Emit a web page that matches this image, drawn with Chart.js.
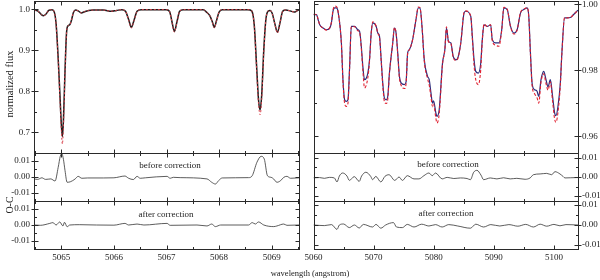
<!DOCTYPE html>
<html><head><meta charset="utf-8">
<script src="https://cdn.jsdelivr.net/npm/chart.js@4/dist/chart.umd.min.js"></script>
<style>
html,body{margin:0;padding:0;background:#fff;}
#wrap{position:relative;width:600px;height:280px;overflow:hidden;font-family:'Liberation Serif','DejaVu Serif',serif;color:#222;}
canvas{position:absolute;left:-20px;top:-20px;}
.t{position:absolute;white-space:nowrap;font-size:9px;line-height:1;transform:translate(-50%,-50%);}
.r{transform:translate(-50%,-50%) rotate(-90deg);}
</style></head><body><div id="wrap">
<canvas id="lt" width="640" height="320"></canvas>
<canvas id="lm" width="640" height="320"></canvas>
<canvas id="lb" width="640" height="320"></canvas>
<canvas id="rt" width="640" height="320"></canvas>
<canvas id="rm" width="640" height="320"></canvas>
<canvas id="rb" width="640" height="320"></canvas>
<div class="t" style="left:170px;top:165px">before correction</div>
<div class="t" style="left:448px;top:164px">before correction</div>
<div class="t" style="left:166px;top:214px">after correction</div>
<div class="t" style="left:446px;top:213px">after correction</div>
<div class="t r" style="left:10px;top:84px;font-size:10.5px">normalized flux</div>
<div class="t r" style="left:10px;top:205px;font-size:10px">O-C</div>
<div class="t" style="left:310px;top:273px;font-size:8.5px">wavelength (angstrom)</div>
</div>
<script>
// ---------- left column: 5064.5 - 5069.5 A ----------
const leftWave  = [5064.48,5064.55,5064.62,5064.66,5064.70,5064.76,5064.82,5064.86,5064.90,5064.94,
                   5064.97,5065.00,5065.02,5065.04,5065.07,5065.10,5065.13,5065.16,5065.19,5065.23,
                   5065.27,5065.32,5065.38,5065.44,5065.52,5065.60,5065.80,5065.95,5066.05,5066.15,
                   5066.22,5066.28,5066.33,5066.38,5066.44,5066.52,5067.00,5067.06,5067.10,5067.15,
                   5067.20,5067.25,5067.32,5067.70,5067.76,5067.82,5067.87,5067.91,5067.95,5068.00,
                   5068.06,5068.55,5068.62,5068.67,5068.71,5068.75,5068.78,5068.81,5068.85,5068.89,
                   5068.93,5068.97,5069.01,5069.06,5069.11,5069.16,5069.21,5069.27,5069.35,5069.43,
                   5069.48,5069.52];
const leftObs   = [0.998,0.996,0.987,0.984,0.987,0.997,0.999,0.995,0.965,0.880,
                   0.800,0.720,0.690,0.730,0.850,0.945,0.960,0.962,0.972,0.992,
                   0.998,0.996,0.991,0.994,0.997,0.998,0.998,0.995,0.997,0.999,
                   0.995,0.975,0.956,0.972,0.995,0.999,0.999,0.994,0.972,0.946,
                   0.970,0.995,0.999,0.999,0.993,0.985,0.970,0.956,0.972,0.993,
                   0.999,0.999,0.996,0.960,0.870,0.780,0.755,0.790,0.900,0.975,
                   0.995,0.997,0.990,0.965,0.944,0.968,0.995,0.998,0.996,0.993,
                   0.996,0.999];
const leftModel = [0.998,0.996,0.987,0.984,0.987,0.997,0.999,0.995,0.963,0.875,
                   0.790,0.705,0.672,0.715,0.845,0.944,0.960,0.962,0.972,0.992,
                   0.998,0.996,0.991,0.994,0.997,0.998,0.998,0.995,0.997,0.999,
                   0.995,0.974,0.954,0.971,0.995,0.999,0.999,0.994,0.971,0.944,
                   0.969,0.995,0.999,0.999,0.993,0.985,0.969,0.954,0.971,0.993,
                   0.999,0.999,0.996,0.958,0.862,0.770,0.743,0.780,0.895,0.975,
                   0.995,0.997,0.990,0.964,0.942,0.967,0.995,0.998,0.996,0.993,
                   0.996,0.999];
const leftBeforeWave = [5064.48,5064.55,5064.63,5064.70,5064.80,5064.88,5064.94,5064.98,5065.01,5065.04,
                        5065.07,5065.11,5065.17,5065.26,5065.32,5065.39,5065.50,5065.80,5066.00,5066.21,
                        5066.28,5066.37,5066.44,5066.50,5066.60,5067.01,5067.07,5067.13,5067.26,5067.77,
                        5067.86,5067.93,5067.99,5068.06,5068.56,5068.63,5068.72,5068.80,5068.86,5068.92,
                        5068.99,5069.04,5069.10,5069.17,5069.23,5069.29,5069.36,5069.48,5069.52];
const leftBefore     = [-0.0012,-0.0015,-0.0005,-0.0015,-0.0012,-0.0025,0.0060,0.0130,0.0145,0.0110,
                        0.0040,-0.0033,-0.0030,-0.0013,0.0004,-0.0008,-0.0006,-0.0006,-0.0005,0.0006,
                        -0.0008,-0.0016,0.0004,-0.0008,-0.0005,0.0004,-0.0008,-0.0002,-0.0004,-0.0012,
                        -0.0033,-0.0044,-0.0023,-0.0006,-0.0004,0.0008,0.0092,0.0129,0.0112,0.0008,
                        -0.0002,-0.0013,-0.0033,-0.0023,-0.0002,0.0004,-0.0008,-0.0006,-0.0005];
const leftAfterWave  = [5064.48,5064.60,5064.78,5064.84,5064.90,5064.97,5065.03,5065.06,5065.11,5065.16,
                        5065.35,5065.67,5066.00,5066.21,5066.28,5066.44,5066.57,5067.01,5067.07,5067.58,
                        5067.77,5067.86,5067.93,5068.03,5068.56,5068.63,5068.69,5068.75,5068.85,5069.04,
                        5069.10,5069.23,5069.29,5069.52];
const leftAfter      = [0.0000,-0.0002,0.0010,0.0015,0.0000,0.0019,-0.0006,0.0017,-0.0011,0.0000,
                        0.0002,0.0000,-0.0001,0.0010,0.0000,0.0006,0.0000,0.0010,-0.0002,0.0000,
                        -0.0006,0.0006,-0.0010,0.0000,0.0000,0.0015,0.0006,0.0019,0.0000,-0.0010,
                        -0.0006,0.0006,-0.0002,0.0000];

// ---------- right column: 5060 - 5104 A ----------
const rightWave  = [5060.00,5060.50,5060.76,5061.04,5061.59,5062.15,5062.70,5062.98,5063.25,5063.53,
                    5063.81,5064.07,5064.64,5064.90,5065.18,5065.46,5065.73,5066.01,5066.29,5066.84,
                    5067.38,5067.67,5067.95,5068.21,5068.49,5069.04,5069.32,5069.60,5069.87,5070.43,
                    5070.70,5070.98,5071.26,5071.52,5071.80,5072.09,5072.35,5072.63,5073.18,5073.46,
                    5073.74,5074.01,5074.29,5074.57,5075.12,5075.40,5075.66,5075.94,5076.49,5077.05,
                    5077.43,5077.72,5078.05,5078.43,5078.97,5079.25,5079.54,5079.80,5079.97,5080.36,
                    5080.53,5080.91,5081.46,5081.85,5082.12,5082.45,5082.85,5083.23,5083.68,5083.94,
                    5084.50,5085.05,5085.33,5086.16,5086.42,5086.71,5086.99,5087.42,5087.81,5088.08,
                    5088.36,5088.91,5089.47,5089.74,5090.30,5090.84,5091.29,5091.67,5092.22,5092.78,
                    5093.33,5093.87,5094.44,5094.98,5095.53,5095.81,5096.09,5096.36,5096.75,5097.19,
                    5097.47,5097.85,5098.29,5098.68,5099.01,5099.40,5099.78,5100.12,5100.33,5100.66,
                    5101.06,5101.32,5101.77,5102.15,5102.72,5103.26,5103.81,5104.00];
const rightObs   = [0.9969,0.9969,0.9954,0.9938,0.9928,0.9923,0.9928,0.9944,0.9979,0.9989,
                    0.9989,0.9979,0.9883,0.9772,0.9711,0.9706,0.9711,0.9812,0.9933,0.9933,
                    0.9923,0.9918,0.9873,0.9812,0.9772,0.9792,0.9832,0.9913,0.9944,0.9933,
                    0.9913,0.9903,0.9832,0.9762,0.9716,0.9711,0.9721,0.9792,0.9883,0.9928,
                    0.9913,0.9853,0.9782,0.9762,0.9757,0.9765,0.9853,0.9863,0.9893,0.9954,
                    0.9989,0.9989,0.9933,0.9832,0.9782,0.9772,0.9732,0.9701,0.9708,0.9671,
                    0.9661,0.9681,0.9822,0.9863,0.9928,0.9888,0.9883,0.9843,0.9832,0.9835,
                    0.9883,0.9974,0.9979,0.9964,0.9903,0.9832,0.9797,0.9792,0.9820,0.9893,
                    0.9938,0.9933,0.9938,0.9893,0.9883,0.9883,0.9920,0.9989,0.9984,0.9933,
                    0.9913,0.9923,0.9974,0.9984,0.9989,0.9964,0.9853,0.9762,0.9742,0.9737,
                    0.9721,0.9772,0.9797,0.9772,0.9750,0.9772,0.9720,0.9671,0.9663,0.9690,
                    0.9762,0.9853,0.9959,0.9959,0.9960,0.9969,0.9979,0.9982];
const rightModel = [0.9970,0.9969,0.9955,0.9938,0.9928,0.9922,0.9929,0.9946,0.9983,0.9995,
                    0.9993,0.9980,0.9880,0.9768,0.9700,0.9691,0.9700,0.9808,0.9933,0.9932,
                    0.9920,0.9915,0.9868,0.9800,0.9747,0.9778,0.9828,0.9913,0.9947,0.9933,
                    0.9912,0.9900,0.9828,0.9755,0.9705,0.9700,0.9712,0.9790,0.9883,0.9930,
                    0.9912,0.9850,0.9778,0.9755,0.9745,0.9760,0.9850,0.9862,0.9893,0.9955,
                    0.9992,0.9990,0.9932,0.9828,0.9775,0.9755,0.9720,0.9690,0.9698,0.9655,
                    0.9641,0.9668,0.9818,0.9863,0.9932,0.9887,0.9882,0.9840,0.9830,0.9833,
                    0.9883,0.9976,0.9980,0.9964,0.9898,0.9815,0.9772,0.9757,0.9800,0.9890,
                    0.9940,0.9933,0.9938,0.9890,0.9876,0.9873,0.9918,0.9991,0.9985,0.9932,
                    0.9910,0.9922,0.9975,0.9985,0.9990,0.9963,0.9848,0.9755,0.9730,0.9717,
                    0.9701,0.9765,0.9790,0.9760,0.9740,0.9765,0.9705,0.9652,0.9643,0.9672,
                    0.9755,0.9852,0.9960,0.9959,0.9960,0.9969,0.9979,0.9982];
const rightBeforeWave = [5060.00,5060.16,5061.00,5061.82,5062.64,5063.47,5063.91,5064.30,5064.85,5065.57,
                         5065.96,5066.78,5067.61,5068.00,5068.71,5069.54,5069.82,5070.37,5071.20,5071.90,
                         5072.58,5073.51,5074.23,5074.79,5075.61,5076.72,5077.54,5078.37,5079.20,5079.75,
                         5080.30,5081.40,5082.24,5083.34,5084.44,5085.55,5086.10,5086.65,5087.20,5087.86,
                         5088.30,5089.41,5090.51,5091.62,5092.72,5093.82,5095.20,5096.03,5096.58,5097.69,
                         5098.79,5099.62,5100.17,5101.00,5101.55,5101.83,5103.76,5104.00];
const rightBefore     = [-0.0004,-0.0004,-0.0003,-0.0007,-0.0002,-0.0005,-0.0026,0.0005,0.0021,0.0005,
                         -0.0018,0.0002,-0.0023,0.0005,0.0025,0.0002,-0.0014,0.0003,-0.0026,0.0004,
                         0.0012,-0.0018,0.0000,-0.0018,0.0007,-0.0010,-0.0010,0.0007,0.0021,0.0007,
                         0.0021,-0.0010,-0.0002,-0.0008,-0.0005,-0.0008,-0.0014,0.0025,0.0035,0.0010,
                         -0.0014,-0.0005,-0.0010,-0.0004,-0.0010,-0.0007,-0.0012,-0.0005,0.0012,0.0016,
                         0.0019,0.0012,0.0028,0.0016,0.0002,-0.0005,-0.0003,-0.0003];
const rightAfterWave  = [5060.00,5061.80,5063.00,5063.91,5064.30,5065.00,5065.96,5066.80,5067.61,5068.30,
                         5069.82,5070.40,5071.20,5072.00,5073.30,5073.80,5074.79,5075.60,5076.72,5078.00,
                         5079.20,5080.30,5081.40,5082.50,5084.00,5086.10,5087.00,5088.30,5089.50,5091.00,
                         5092.50,5094.00,5095.30,5096.58,5097.70,5098.80,5100.00,5101.00,5102.00,5104.00];
const rightAfter      = [0.0000,-0.0003,0.0002,-0.0022,0.0000,0.0005,-0.0013,0.0000,-0.0015,0.0003,
                         -0.0010,0.0003,-0.0016,0.0000,0.0012,-0.0010,-0.0013,0.0003,-0.0010,0.0004,
                         -0.0005,0.0002,-0.0010,0.0002,-0.0005,-0.0016,0.0004,-0.0010,0.0002,-0.0005,
                         0.0002,-0.0006,0.0003,-0.0010,0.0004,-0.0006,0.0003,-0.0004,0.0002,0.0000];

// ---------- tick label texts ----------
const leftXLabels  = ['5065','5066','5067','5068','5069'];
const rightXLabels = ['5060','5070','5080','5090','5100'];

// ---------- helpers ----------
const FONT = "'Liberation Serif','DejaVu Serif',serif";
const YW = 30, XH = 16;
const pts = (xs, ys) => xs.map((x, i) => ({x: x, y: ys[i]}));
const isMaj = (v, step) => Math.abs(v / step - Math.round(v / step)) < 1e-6;
const fmtRes = v => Math.abs(v) < 1e-9 ? '0.00' : v.toFixed(2);

const framePlugin = {
  id: 'frame',
  afterDraw(chart, args, o) {
    const {ctx, chartArea: a, scales} = chart;
    const L = Math.round(a.left) + 0.5, R = Math.round(a.right) + 0.5;
    const T = Math.round(a.top) + 0.5, B = Math.round(a.bottom) + 0.5;
    ctx.save();
    ctx.strokeStyle = '#2a2a2a';
    ctx.lineWidth = 1;
    ctx.strokeRect(L, T, R - L, B - T);
    const seg = (x1, y1, x2, y2) => { ctx.beginPath(); ctx.moveTo(x1, y1); ctx.lineTo(x2, y2); ctx.stroke(); };
    scales.x.ticks.forEach(t => {
      const p = Math.round(scales.x.getPixelForValue(t.value)) + 0.5;
      if (p < L + 1 || p > R - 1) return;
      const len = isMaj(t.value, o.xMajor) ? 4 : 2.5;
      seg(p, B, p, B - len);
      seg(p, T, p, T + len);
    });
    scales.y.ticks.forEach(t => {
      const p = Math.round(scales.y.getPixelForValue(t.value)) + 0.5;
      if (p < T + 1 || p > B - 1) return;
      const maj = isMaj(t.value, o.yMajor);
      const len = maj ? 4 : 2.5;
      const out = maj ? 3 : 0;
      if (o.side === 'left') {
        seg(L - out, p, L + len, p);
        seg(R, p, R - len, p);
      } else {
        seg(R + out, p, R - len, p);
        seg(L, p, L + len, p);
      }
    });
    ctx.restore();
  }
};

function panel(id, g) {
  const left = g.side === 'left';
  new Chart(document.getElementById(id), {
    type: 'line',
    data: {datasets: g.datasets},
    options: {
      responsive: false, animation: false, events: [],
      layout: {padding: {
        left: g.l + 20 - (left ? YW : 0),
        right: 620 - g.r - (left ? 0 : YW),
        top: g.t + 20,
        bottom: 300 - g.b - XH}},
      plugins: {legend: {display: false}, tooltip: {enabled: false},
                frame: {xMajor: g.xMajor, yMajor: g.yMajor, side: g.side}},
      elements: {point: {radius: 0}},
      scales: {
        x: {type: 'linear', position: 'bottom', min: g.xMin, max: g.xMax,
            afterFit: s => { s.height = XH; },
            grid: {display: false, drawTicks: false}, border: {display: false},
            ticks: {display: g.xLabels, stepSize: g.xStep, autoSkip: false, includeBounds: false,
                    maxRotation: 0, padding: 3, color: '#222', font: {family: FONT, size: 9},
                    callback: v => isMaj(v, g.xMajor) ? g.xFmt(v) : ''}},
        y: {type: 'linear', position: g.side, min: g.yMin, max: g.yMax,
            afterFit: s => { s.width = YW; },
            grid: {display: false, drawTicks: false}, border: {display: false},
            ticks: {stepSize: g.yStep, autoSkip: false, includeBounds: false,
                    padding: 4, color: '#222', font: {family: FONT, size: 9},
                    callback: v => isMaj(v, g.yMajor) ? g.yFmt(v) : ''}}
      }
    },
    plugins: [framePlugin]
  });
}

const leftXFmt = v => leftXLabels.find(s => Math.abs(+s - v) < 1e-6) || '';
const rightXFmt = v => rightXLabels.find(s => Math.abs(+s - v) < 1e-6) || '';
const LX = {l: 34, r: 299, xMin: 5064.48, xMax: 5069.52, xStep: 0.5, xMajor: 1, xFmt: leftXFmt, side: 'left'};
const RX = {l: 313.5, r: 578, xMin: 5060, xMax: 5104, xStep: 5, xMajor: 10, xFmt: rightXFmt, side: 'right'};
const resLine = d => ({data: d, borderColor: '#333', borderWidth: 0.8, cubicInterpolationMode: 'monotone', pointRadius: 0});

panel('lt', Object.assign({}, LX, {t: 1, b: 153, xLabels: false,
  yMin: 0.65, yMax: 1.02, yStep: 0.05, yMajor: 0.1, yFmt: v => v.toFixed(1),
  datasets: [
    {data: pts(leftWave, leftModel), borderColor: '#d8404a', borderWidth: 1, borderDash: [2, 2], cubicInterpolationMode: 'monotone'},
    {data: pts(leftWave, leftObs), borderColor: '#1a1a1a', borderWidth: 1.5, cubicInterpolationMode: 'monotone'}
  ]}));
panel('lm', Object.assign({}, LX, {t: 153, b: 201, xLabels: false,
  yMin: -0.015, yMax: 0.015, yStep: 0.005, yMajor: 0.01, yFmt: fmtRes,
  datasets: [resLine(pts(leftBeforeWave, leftBefore))]}));
panel('lb', Object.assign({}, LX, {t: 201, b: 249, xLabels: true,
  yMin: -0.015, yMax: 0.015, yStep: 0.005, yMajor: 0.01, yFmt: fmtRes,
  datasets: [resLine(pts(leftAfterWave, leftAfter))]}));

panel('rt', Object.assign({}, RX, {t: 1, b: 153, xLabels: false,
  yMin: 0.955, yMax: 1.001, yStep: 0.01, yMajor: 0.02, yFmt: v => v.toFixed(2),
  datasets: [
    {data: pts(rightWave, rightModel), borderColor: '#e02030', borderWidth: 1.1, borderDash: [3, 2], cubicInterpolationMode: 'monotone'},
    {data: pts(rightWave, rightObs), borderColor: '#2c2c7c', borderWidth: 1.2, cubicInterpolationMode: 'monotone'}
  ]}));
panel('rm', Object.assign({}, RX, {t: 153, b: 201, xLabels: false,
  yMin: -0.0126, yMax: 0.0126, yStep: 0.005, yMajor: 0.01, yFmt: fmtRes,
  datasets: [resLine(pts(rightBeforeWave, rightBefore))]}));
panel('rb', Object.assign({}, RX, {t: 201, b: 249, xLabels: true,
  yMin: -0.012, yMax: 0.012, yStep: 0.005, yMajor: 0.01, yFmt: fmtRes,
  datasets: [resLine(pts(rightAfterWave, rightAfter))]}));
</script>
</body></html>
